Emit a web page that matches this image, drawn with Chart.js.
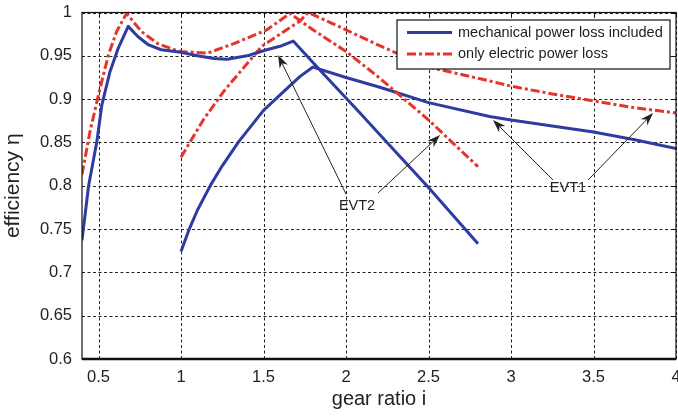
<!DOCTYPE html>
<html>
<head>
<meta charset="utf-8">
<script src="https://cdn.jsdelivr.net/npm/chart.js@4.4.1/dist/chart.umd.min.js"></script>
<style>
  html, body { margin: 0; padding: 0; background: #fff; }
</style>
</head>
<body>
<canvas id="effChart" width="678" height="419"></canvas>
<script>
// efficiency over gear ratio, EVT1 / EVT2
const evt2MechX = [0.40, 0.44, 0.49, 0.52, 0.57, 0.62, 0.68, 0.74, 0.80, 0.88, 1.00, 1.10, 1.20, 1.28, 1.40, 1.52, 1.60, 1.68, 1.85, 2.085, 2.20, 2.50, 2.80];
const evt2MechY = [0.737, 0.800, 0.851, 0.893, 0.932, 0.959, 0.984, 0.972, 0.963, 0.957, 0.954, 0.950, 0.947, 0.946, 0.950, 0.957, 0.961, 0.967, 0.932, 0.884, 0.860, 0.798, 0.733];

const evt1MechX = [1.00, 1.05, 1.10, 1.18, 1.25, 1.35, 1.50, 1.63, 1.72, 1.80, 2.00, 2.20, 2.50, 2.87, 3.00, 3.50, 3.75, 4.00];
const evt1MechY = [0.724, 0.750, 0.772, 0.801, 0.823, 0.851, 0.887, 0.910, 0.926, 0.937, 0.925, 0.914, 0.896, 0.880, 0.876, 0.862, 0.853, 0.843];

const evt2ElecX = [0.40, 0.448, 0.50, 0.56, 0.61, 0.67, 0.76, 0.86, 0.96, 1.00, 1.16, 1.32, 1.52, 1.66, 1.80, 2.00, 2.20, 2.50, 2.80];
const evt2ElecY = [0.813, 0.862, 0.905, 0.951, 0.978, 0.999, 0.978, 0.964, 0.957, 0.955, 0.953, 0.964, 0.980, 0.999, 0.980, 0.955, 0.925, 0.876, 0.822];

const evt1ElecX = [1.00, 1.135, 1.267, 1.49, 1.60, 1.72, 1.77, 2.00, 2.20, 2.50, 2.87, 3.00, 3.25, 3.50, 3.75, 4.00];
const evt1ElecY = [0.833, 0.876, 0.911, 0.961, 0.975, 0.990, 1.000, 0.980, 0.962, 0.937, 0.921, 0.915, 0.906, 0.898, 0.890, 0.884];

const xTicks = [0.5, 1, 1.5, 2, 2.5, 3, 3.5, 4];
const yTicks = [0.6, 0.65, 0.7, 0.75, 0.8, 0.85, 0.9, 0.95, 1];

const legendLabels = ['mechanical power loss included', 'only electric power loss'];

const blue = '#2c3ca2';
const red = '#e5352b';
const dashDot = [9, 3, 3, 3];
const fontFamily = '"Liberation Sans", Arial, sans-serif';

function toPoints(xs, ys) {
  return xs.map((x, i) => ({ x: x, y: ys[i] }));
}

// label text, label position, arrow tails and tips in data units
const callouts = [
  { text: 'EVT2', at: [2.067, 0.777],
    arrows: [[[2.0, 0.7904], [1.588, 0.9509]], [[2.194, 0.7916], [2.570, 0.8585]]] },
  { text: 'EVT1', at: [3.345, 0.7973],
    arrows: [[[3.255, 0.8066], [2.891, 0.8759]], [[3.467, 0.8066], [3.861, 0.8840]]] }
];

function drawArrow(ctx, x0, y0, x1, y1) {
  const a = Math.atan2(y1 - y0, x1 - x0);
  const len = 13, w = 4.5;
  const c = Math.cos(a), s = Math.sin(a);
  ctx.beginPath();
  ctx.moveTo(x0, y0);
  ctx.lineTo(x1 - len * 0.7 * c, y1 - len * 0.7 * s);
  ctx.stroke();
  ctx.beginPath();
  ctx.moveTo(x1, y1);
  ctx.lineTo(x1 - len * c + w * s, y1 - len * s - w * c);
  ctx.lineTo(x1 - len * 0.7 * c, y1 - len * 0.7 * s);
  ctx.lineTo(x1 - len * c - w * s, y1 - len * s + w * c);
  ctx.closePath();
  ctx.fill();
}

// dashed grid under the curves
const dashedGrid = {
  id: 'dashedGrid',
  beforeDatasetsDraw(chart) {
    const ctx = chart.ctx;
    const area = chart.chartArea;
    const xs = chart.scales.x, ys = chart.scales.y;
    ctx.save();
    ctx.strokeStyle = '#222';
    ctx.lineWidth = 1;
    ctx.setLineDash([3, 2.5]);
    ctx.beginPath();
    xTicks.forEach(v => {
      const px = Math.round(xs.getPixelForValue(v)) + 0.5;
      ctx.moveTo(px, area.bottom); ctx.lineTo(px, area.top);
    });
    yTicks.forEach(v => {
      const py = Math.round(ys.getPixelForValue(v)) + 0.5;
      ctx.moveTo(area.left, py); ctx.lineTo(area.right, py);
    });
    ctx.stroke();
    ctx.restore();
  }
};

const extras = {
  id: 'extras',
  afterDatasetsDraw(chart) {
    const ctx = chart.ctx;
    const area = chart.chartArea;
    const xs = chart.scales.x, ys = chart.scales.y;
    ctx.save();

    // axes box with small inward ticks on top and right
    ctx.strokeStyle = '#111';
    ctx.lineWidth = 1.2;
    ctx.strokeRect(area.left, area.top, area.right - area.left, area.bottom - area.top);
    ctx.lineWidth = 2.5;
    ctx.beginPath();
    ctx.moveTo(area.left, area.bottom);
    ctx.lineTo(area.right, area.bottom);
    ctx.stroke();
    ctx.lineWidth = 1;
    ctx.beginPath();
    xTicks.forEach(v => {
      const px = Math.round(xs.getPixelForValue(v)) + 0.5;
      ctx.moveTo(px, area.top); ctx.lineTo(px, area.top + 4);
    });
    yTicks.forEach(v => {
      const py = Math.round(ys.getPixelForValue(v)) + 0.5;
      ctx.moveTo(area.right, py); ctx.lineTo(area.right - 4, py);
    });
    ctx.stroke();

    // callouts
    ctx.strokeStyle = '#222';
    ctx.fillStyle = '#222';
    ctx.lineWidth = 1;
    ctx.font = '14.5px ' + fontFamily;
    ctx.textAlign = 'center';
    ctx.textBaseline = 'middle';
    callouts.forEach(c => {
      ctx.fillText(c.text, xs.getPixelForValue(c.at[0]), ys.getPixelForValue(c.at[1]));
      c.arrows.forEach(([from, to]) => {
        drawArrow(ctx,
          xs.getPixelForValue(from[0]), ys.getPixelForValue(from[1]),
          xs.getPixelForValue(to[0]), ys.getPixelForValue(to[1]));
      });
    });

    // legend box, top right inside the plot
    const bx = area.right - 279, by = area.top + 7.5, bw = 273, bh = 49;
    ctx.fillStyle = '#fff';
    ctx.fillRect(bx, by, bw, bh);
    ctx.strokeStyle = '#111';
    ctx.lineWidth = 1.2;
    ctx.strokeRect(bx, by, bw, bh);
    ctx.textAlign = 'left';
    chart.data.datasets.slice(0, 2).forEach((ds, i) => {
      const ly = by + 12.5 + i * 21.5;
      ctx.strokeStyle = ds.borderColor;
      ctx.lineWidth = 3;
      ctx.setLineDash(ds.borderDash || []);
      ctx.beginPath();
      ctx.moveTo(bx + 10, ly);
      ctx.lineTo(bx + 55, ly);
      ctx.stroke();
      ctx.setLineDash([]);
      ctx.fillStyle = '#222';
      ctx.fillText(legendLabels[i], bx + 61, ly);
    });
    ctx.restore();
  }
};

const ctx = document.getElementById('effChart');

const myChart = new Chart(ctx, {
  type: 'line',
  data: {
    datasets: [
      { data: toPoints(evt2MechX, evt2MechY), borderColor: blue, borderWidth: 3 },
      { data: toPoints(evt2ElecX, evt2ElecY), borderColor: red, borderWidth: 3, borderDash: dashDot },
      { data: toPoints(evt1MechX, evt1MechY), borderColor: blue, borderWidth: 3 },
      { data: toPoints(evt1ElecX, evt1ElecY), borderColor: red, borderWidth: 3, borderDash: dashDot },
    ],
  },
  options: {
    responsive: false,
    animation: false,
    parsing: false,
    elements: {
      point: { radius: 0 },
      line: { tension: 0, borderCapStyle: 'butt', borderJoinStyle: 'round' },
    },
    layout: {
      padding: { left: 0, right: 2, top: 12.5, bottom: 0 },
    },
    plugins: {
      legend: { display: false },
      tooltip: { enabled: false },
    },
    scales: {
      x: {
        type: 'linear',
        min: 0.4,
        max: 4,
        afterBuildTicks: scale => { scale.ticks = xTicks.map(v => ({ value: v })); },
        afterFit: scale => { scale.height = 60; scale.paddingLeft = 0; scale.paddingRight = 0; },
        grid: { display: false, drawTicks: false },
        border: { display: false },
        ticks: {
          padding: 9,
          color: '#222',
          font: { family: fontFamily, size: 16.5 },
          callback: v => String(v),
        },
        title: {
          display: true,
          text: 'gear ratio i',
          color: '#222',
          font: { family: fontFamily, size: 20 },
          padding: { top: 0, bottom: 8 },
        },
      },
      y: {
        type: 'linear',
        min: 0.6,
        max: 1,
        afterBuildTicks: scale => { scale.ticks = yTicks.map(v => ({ value: v })); },
        afterFit: scale => { scale.width = 82; scale.paddingTop = 0; scale.paddingBottom = 0; },
        grid: { display: false, drawTicks: false },
        border: { display: false },
        ticks: {
          padding: 10,
          color: '#222',
          font: { family: fontFamily, size: 16.5 },
          callback: v => String(v),
        },
        title: {
          display: true,
          text: 'efficiency η',
          color: '#222',
          font: { family: fontFamily, size: 21 },
          padding: { top: 1, bottom: 0 },
        },
      },
    },
  },
  plugins: [dashedGrid, extras],
});
</script>
</body>
</html>
